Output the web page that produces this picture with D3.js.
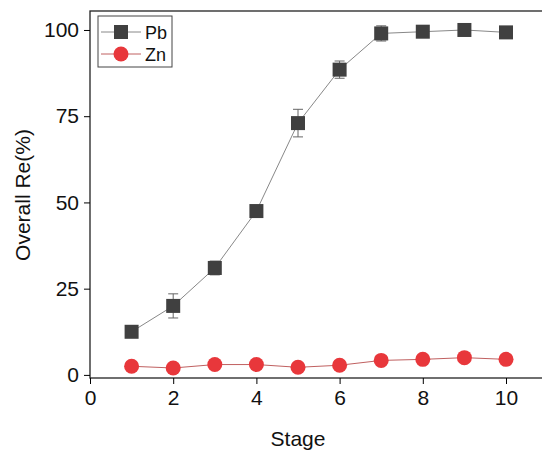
<!DOCTYPE html>
<html lang="en">
<head>
<meta charset="UTF-8">
<script src="https://d3js.org/d3.v7.min.js"></script>
<style>
  body { margin: 0; background: #fff; font-family: "Liberation Sans", Arial, sans-serif; }
</style>
</head>
<body>
<svg width="542" height="452"></svg>
<script>
const stages = [1, 2, 3, 4, 5, 6, 7, 8, 9, 10];
const pb = [12.5, 20, 31, 47.5, 73, 88.5, 99, 99.5, 100, 99.3];
const pbErr = [0.5, 3.5, 2, 0.5, 4, 2.5, 2.2, 1, 0.5, 0.5];
const zn = [2.5, 2, 3, 3, 2.2, 2.8, 4.2, 4.5, 5, 4.5];
const xTicks = [0, 2, 4, 6, 8, 10];
const yTicks = [0, 25, 50, 75, 100];

const svg = d3.select("svg");
const pL = 90, pR = 545, pT = 11, pB = 378;

const x = d3.scaleLinear().domain([0, (pR - pL) / 41.6]).range([pL, pR]);
const y = d3.scaleLinear().domain([-0.9, 105.5]).range([pB, pT]);

// frame
svg.append("rect").attr("x", pL).attr("y", pT)
  .attr("width", pR - pL).attr("height", pB - pT)
  .attr("fill", "none").attr("stroke", "#222").attr("stroke-width", 1.3);

svg.append("g").attr("transform", `translate(0,${pB})`)
  .call(d3.axisBottom(x).tickValues(xTicks).tickSize(6).tickPadding(6))
  .call(g => g.select(".domain").remove())
  .call(g => g.selectAll("text").attr("font-size", 21).attr("fill", "#111").attr("font-family", "Liberation Sans, Arial"));

svg.append("g").attr("transform", `translate(${pL},0)`)
  .call(d3.axisLeft(y).tickValues(yTicks).tickSize(6).tickPadding(5))
  .call(g => g.select(".domain").remove())
  .call(g => g.selectAll("text").attr("font-size", 21).attr("fill", "#111").attr("font-family", "Liberation Sans, Arial"));

svg.append("text").attr("x", 298).attr("y", 446).attr("text-anchor", "middle")
  .attr("font-size", 21).attr("fill", "#111").text("Stage");
svg.append("text").attr("transform", "rotate(-90)").attr("x", -195).attr("y", 30)
  .attr("text-anchor", "middle").attr("font-size", 21).attr("fill", "#111").text("Overall Re(%)");

const line = d3.line().x((d, i) => x(stages[i])).y(d => y(d));

// Pb error bars
stages.forEach((s, i) => {
  const g = svg.append("g").attr("stroke", "#666").attr("stroke-width", 1);
  g.append("line").attr("x1", x(s)).attr("x2", x(s)).attr("y1", y(pb[i] - pbErr[i])).attr("y2", y(pb[i] + pbErr[i]));
  [pb[i] - pbErr[i], pb[i] + pbErr[i]].forEach(v =>
    g.append("line").attr("x1", x(s) - 5).attr("x2", x(s) + 5).attr("y1", y(v)).attr("y2", y(v)));
});

svg.append("path").datum(pb).attr("d", line).attr("fill", "none").attr("stroke", "#888").attr("stroke-width", 1);
svg.append("path").datum(zn).attr("d", line).attr("fill", "none").attr("stroke", "#c06060").attr("stroke-width", 1);

svg.selectAll(".pb").data(pb).enter().append("rect")
  .attr("x", (d, i) => x(stages[i]) - 7).attr("y", d => y(d) - 7)
  .attr("width", 14).attr("height", 14).attr("fill", "#404040");
svg.selectAll(".zn").data(zn).enter().append("circle")
  .attr("cx", (d, i) => x(stages[i])).attr("cy", d => y(d)).attr("r", 7.5).attr("fill", "#e8373b");

// legend
const lg = svg.append("g");
lg.append("rect").attr("x", 98).attr("y", 16).attr("width", 74).attr("height", 51)
  .attr("fill", "#fff").attr("stroke", "#444").attr("stroke-width", 1);
lg.append("line").attr("x1", 101).attr("x2", 141).attr("y1", 32).attr("y2", 32).attr("stroke", "#888");
lg.append("rect").attr("x", 114).attr("y", 25).attr("width", 14).attr("height", 14).attr("fill", "#404040");
lg.append("text").attr("x", 145).attr("y", 39).attr("font-size", 18).attr("fill", "#111").text("Pb");
lg.append("line").attr("x1", 101).attr("x2", 141).attr("y1", 54).attr("y2", 54).attr("stroke", "#c06060");
lg.append("circle").attr("cx", 121).attr("cy", 54).attr("r", 7.5).attr("fill", "#e8373b");
lg.append("text").attr("x", 145).attr("y", 61).attr("font-size", 18).attr("fill", "#111").text("Zn");
</script>
</body>
</html>
